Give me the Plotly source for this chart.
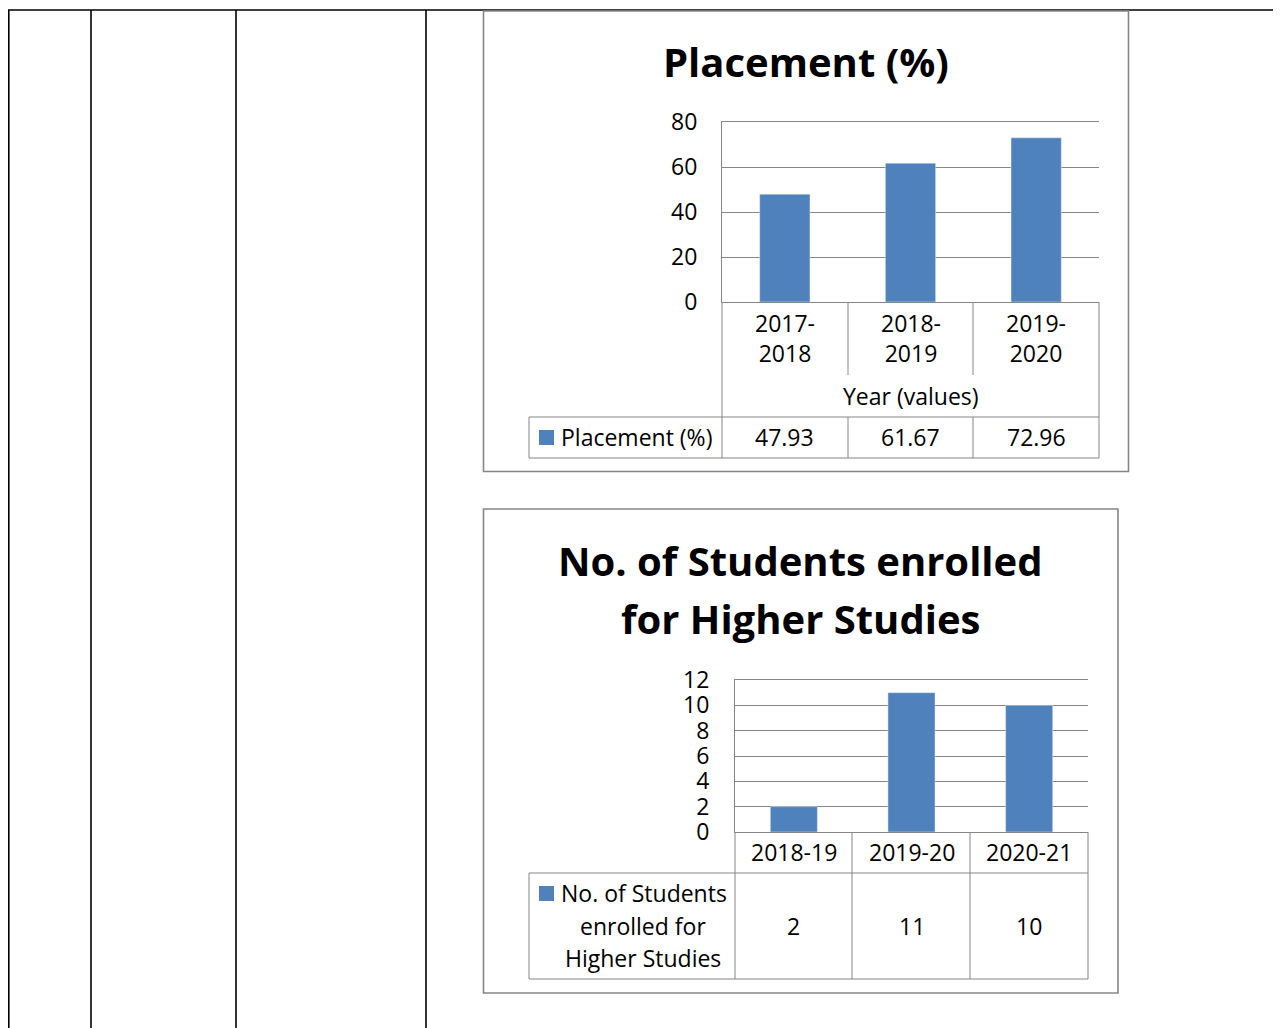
import plotly.graph_objects as go

# page offset (browser body margin) compensation
OX, OY = 8, 8
W, H = 1281 - OX, 1028 - OY

# ---- data ----
years1 = ["2017-2018", "2018-2019", "2019-2020"]
years1_labels = ["2017-<br>2018", "2018-<br>2019", "2019-<br>2020"]
placement = [47.93, 61.67, 72.96]
title1 = "Placement (%)"
series1 = "Placement (%)"
axis_title1 = "Year (values)"

years2 = ["2018-19", "2019-20", "2020-21"]
higher = [2, 11, 10]
title2_lines = ["No. of Students enrolled", "for Higher Studies"]
series2_lines = ["No. of Students", "enrolled for", "Higher Studies"]

BAR = "#4F81BD"
GRID = "#868686"
FONT = "Open Sans"
FS = 23
TFS = 40


def px(x):
    return (x - OX) / W


def py(y):
    return 1 - (y - OY) / H


fig = go.Figure()
fig.add_trace(go.Bar(x=years1, y=placement, marker_color=BAR, width=0.4,
                     xaxis="x", yaxis="y", showlegend=False))
fig.add_trace(go.Bar(x=years2, y=higher, marker_color=BAR, width=0.4,
                     xaxis="x2", yaxis="y2", showlegend=False))

shapes = []
annotations = []


def line(x0, y0, x1, y1, color=GRID, width=1, layer="above"):
    shapes.append(dict(type="line", xref="paper", yref="paper",
                       x0=px(x0), y0=py(y0), x1=px(x1), y1=py(y1),
                       line=dict(color=color, width=width), layer=layer))


# document table lines (black)
line(8, 10, 1281, 10, color="black", width=1.6, layer="below")
for xv in [8.8, 91, 236, 426]:
    line(xv, 10, xv, 1028, color="black", width=1.6, layer="below")

# chart boxes
for (x0, y0, x1, y1) in [(483.5, 11, 1128.5, 471.5), (483.5, 509, 1118, 993)]:
    shapes.append(dict(type="rect", xref="paper", yref="paper",
                       x0=px(x0), y0=py(y0), x1=px(x1), y1=py(y1),
                       line=dict(color=GRID, width=1.6), fillcolor="white",
                       layer="below"))

# ---- chart geometry ----
c1_left, c1_right, c1_top, c1_bot = 722, 1099, 122, 302
c2_left, c2_right, c2_top, c2_bot = 735, 1088, 680, 832

tick_font = dict(family=FONT, size=FS, color="black")

common_x = dict(range=[-0.5, 2.5], showticklabels=False, showgrid=False,
                showline=True, mirror=True, linecolor=GRID, linewidth=1,
                ticks="", zeroline=False, fixedrange=True, automargin=False)
common_y = dict(showgrid=True, gridcolor=GRID, gridwidth=1, showline=True,
                linecolor=GRID, linewidth=1, zeroline=False,
                tickfont=tick_font, ticks="", fixedrange=True,
                automargin=False)

fig.update_layout(
    width=W, height=H,
    margin=dict(l=0, r=0, t=0, b=0, pad=0, autoexpand=False),
    paper_bgcolor="white", plot_bgcolor="rgba(0,0,0,0)",
    xaxis=dict(domain=[px(c1_left), px(c1_right)], anchor="y", **common_x),
    yaxis=dict(domain=[py(c1_bot), py(c1_top)], anchor="x",
               range=[0, 80], dtick=20, ticklabelstandoff=19, **common_y),
    xaxis2=dict(domain=[px(c2_left), px(c2_right)], anchor="y2", **common_x),
    yaxis2=dict(domain=[py(c2_bot), py(c2_top)], anchor="x2",
                range=[0, 12], dtick=2, ticklabelstandoff=20, **common_y),
)


def text(x, y, s, size=FS, bold=False, xanchor="center"):
    annotations.append(dict(
        x=px(x), y=py(y), xref="paper", yref="paper",
        text=("<b>%s</b>" % s) if bold else s, showarrow=False,
        xanchor=xanchor, yanchor="middle", align="center",
        font=dict(family=FONT, size=size, color="black")))


def cat_text(cat, xref, y, s):
    annotations.append(dict(x=cat, y=py(y), xref=xref, yref="paper",
                            text=s, showarrow=False, xanchor="center",
                            yanchor="middle", align="center",
                            font=dict(family=FONT, size=FS, color="black")))


# ---- chart 1 title & data table ----
text(806, 61, title1, size=TFS, bold=True)

col1 = [c1_left, 848, 973, c1_right]
row1 = [c1_bot, 375, 417, 458]
for xv in col1[1:3]:
    line(xv, row1[0], xv, row1[1])
    line(xv, row1[2], xv, row1[3])
line(c1_left, row1[0], c1_left, row1[3])
line(c1_right, row1[0], c1_right, row1[3])
line(529, row1[2], c1_right, row1[2])
line(529, row1[3], c1_right, row1[3])
line(529, row1[2], 529, row1[3])

for cat, lab, val in zip(years1, years1_labels, placement):
    cat_text(cat, "x", 338, lab)
    cat_text(cat, "x", 437, "%.2f" % val)
text(911, 396, axis_title1)
shapes.append(dict(type="rect", xref="paper", yref="paper",
                   x0=px(539), y0=py(430), x1=px(554), y1=py(445),
                   fillcolor=BAR, line=dict(width=0)))
text(559, 437, series1, xanchor="left")

# ---- chart 2 title & data table ----
for yv, s in zip([560, 618], title2_lines):
    text(800, yv, s, size=TFS, bold=True)

col2 = [c2_left, 852, 970, c2_right]
row2 = [c2_bot, 873, 979]
for xv in col2:
    line(xv, row2[0], xv, row2[2])
line(529, row2[1], c2_right, row2[1])
line(529, row2[2], c2_right, row2[2])
line(529, row2[1], 529, row2[2])

for cat, val in zip(years2, higher):
    cat_text(cat, "x2", 852, cat)
    cat_text(cat, "x2", 926, str(val))
shapes.append(dict(type="rect", xref="paper", yref="paper",
                   x0=px(539), y0=py(886), x1=px(554), y1=py(901),
                   fillcolor=BAR, line=dict(width=0)))
for yv, xv, s in zip([893, 926, 958], [643, 643, 643], series2_lines):
    text(xv, yv, s)
# first legend line sits right of the marker
annotations[-3]["x"] = px(559)
annotations[-3]["xanchor"] = "left"

fig.update_layout(shapes=shapes, annotations=annotations)
fig.write_html("out.html")
